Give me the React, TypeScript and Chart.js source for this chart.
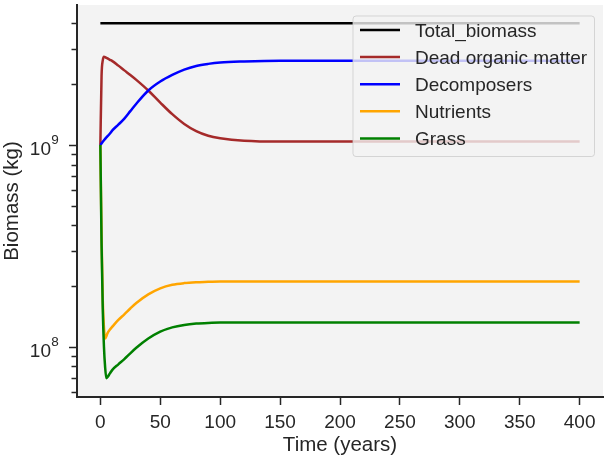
import React, { useEffect, useRef } from "react";
import { Chart, registerables } from "chart.js";

Chart.register(...registerables);

// ---- data ----
const years = [0, 1, 2, 3, 4, 5, 6, 8, 10, 15, 20, 25, 30, 40, 50, 60, 70, 80, 90, 100, 120, 150, 200, 250, 300, 350, 400];
const seriesNames = ["Total_biomass", "Dead organic matter", "Decomposers", "Nutrients", "Grass"];
const totalBiomass = [4.0e9, 4.0e9, 4.0e9, 4.0e9, 4.0e9, 4.0e9, 4.0e9, 4.0e9, 4.0e9, 4.0e9, 4.0e9, 4.0e9, 4.0e9, 4.0e9, 4.0e9, 4.0e9, 4.0e9, 4.0e9, 4.0e9, 4.0e9, 4.0e9, 4.0e9, 4.0e9, 4.0e9, 4.0e9, 4.0e9, 4.0e9];
const deadOrganicMatter = [1.0e9, 2.2e9, 2.62e9, 2.73e9, 2.72e9, 2.7e9, 2.68e9, 2.64e9, 2.6e9, 2.47e9, 2.34e9, 2.22e9, 2.1e9, 1.86e9, 1.62e9, 1.42e9, 1.27e9, 1.17e9, 1.11e9, 1.08e9, 1.05e9, 1.04e9, 1.04e9, 1.04e9, 1.04e9, 1.04e9, 1.04e9];
const decomposers = [1.0e9, 1.018e9, 1.036e9, 1.054e9, 1.072e9, 1.09e9, 1.105e9, 1.14e9, 1.18e9, 1.26e9, 1.35e9, 1.47e9, 1.6e9, 1.86e9, 2.06e9, 2.22e9, 2.36e9, 2.46e9, 2.52e9, 2.56e9, 2.59e9, 2.61e9, 2.61e9, 2.61e9, 2.61e9, 2.61e9, 2.61e9];
const nutrients = [1.0e9, 3.5e8, 1.7e8, 1.25e8, 1.1e8, 1.13e8, 1.17e8, 1.22e8, 1.26e8, 1.36e8, 1.45e8, 1.55e8, 1.65e8, 1.82e8, 1.95e8, 2.03e8, 2.07e8, 2.09e8, 2.1e8, 2.11e8, 2.11e8, 2.11e8, 2.11e8, 2.11e8, 2.11e8, 2.11e8, 2.11e8];
const grass = [1.0e9, 3.2e8, 1.55e8, 1.0e8, 7.9e7, 7.0e7, 7.1e7, 7.4e7, 7.7e7, 8.2e7, 8.7e7, 9.3e7, 9.9e7, 1.1e8, 1.19e8, 1.25e8, 1.285e8, 1.305e8, 1.315e8, 1.32e8, 1.32e8, 1.32e8, 1.32e8, 1.32e8, 1.32e8, 1.32e8, 1.32e8];

const xTicks = [0, 50, 100, 150, 200, 250, 300, 350, 400];
const yMajorTicks = [1e8, 1e9];
const yMajorLabels = [["10", "8"], ["10", "9"]];
const yMinorTicks = [6e7, 7e7, 8e7, 9e7, 2e8, 3e8, 4e8, 5e8, 6e8, 7e8, 8e8, 9e8, 2e9, 3e9, 4e9];

// ---- styles ----
const seriesColors = ["#000000", "#a52a2a", "#0000ff", "#ffa500", "#008000"];
const FONT = "'Liberation Sans', Arial, Helvetica, sans-serif";
const TEXT = "#262626";

export default function App() {
  const ref = useRef<HTMLCanvasElement | null>(null);

  useEffect(() => {
    document.body.style.margin = "0";
    const canvas = ref.current;
    if (!canvas) return;
    const seriesValues = [totalBiomass, deadOrganicMatter, decomposers, nutrients, grass];

    const bgPlugin = {
      id: "bg",
      beforeDraw(chart: any) {
        const { ctx, chartArea } = chart;
        ctx.save();
        ctx.fillStyle = "#f3f3f3";
        ctx.fillRect(chartArea.left, chartArea.top, chartArea.right - chartArea.left, chartArea.bottom - chartArea.top);
        ctx.restore();
      },
    };

    const decoPlugin = {
      id: "deco",
      afterDraw(chart: any) {
        const { ctx, chartArea } = chart;
        const y = chart.scales.y;
        ctx.save();
        // y tick marks
        ctx.strokeStyle = TEXT;
        ctx.lineWidth = 1.5;
        const drawTick = (v: number, len: number) => {
          const py = Math.round(y.getPixelForValue(v)) + 0.5;
          ctx.beginPath();
          ctx.moveTo(chartArea.left - len, py);
          ctx.lineTo(chartArea.left, py);
          ctx.stroke();
        };
        yMinorTicks.forEach((v) => drawTick(v, 5.5));
        yMajorTicks.forEach((v) => drawTick(v, 8));
        // y tick labels with superscripts
        ctx.fillStyle = TEXT;
        ctx.textBaseline = "alphabetic";
        yMajorTicks.forEach((v, i) => {
          const py = y.getPixelForValue(v);
          ctx.font = `19px ${FONT}`;
          ctx.textAlign = "right";
          ctx.fillText(yMajorLabels[i][0], 51, py + 9.7);
          ctx.font = `13.5px ${FONT}`;
          ctx.textAlign = "left";
          ctx.fillText(yMajorLabels[i][1], 51.3, py - 1.3);
        });

        // legend
        const bx = 353, by = 16, bw = 241.5, bh = 140.5, r = 3;
        ctx.beginPath();
        ctx.moveTo(bx + r, by);
        ctx.lineTo(bx + bw - r, by);
        ctx.quadraticCurveTo(bx + bw, by, bx + bw, by + r);
        ctx.lineTo(bx + bw, by + bh - r);
        ctx.quadraticCurveTo(bx + bw, by + bh, bx + bw - r, by + bh);
        ctx.lineTo(bx + r, by + bh);
        ctx.quadraticCurveTo(bx, by + bh, bx, by + bh - r);
        ctx.lineTo(bx, by + r);
        ctx.quadraticCurveTo(bx, by, bx + r, by);
        ctx.closePath();
        ctx.fillStyle = "rgba(243,243,243,0.8)";
        ctx.fill();
        ctx.strokeStyle = "rgba(204,204,204,0.8)";
        ctx.lineWidth = 1;
        ctx.stroke();
        seriesNames.forEach((name, i) => {
          const ry = 30 + i * 27.1;
          ctx.strokeStyle = seriesColors[i];
          ctx.lineWidth = 2.5;
          ctx.beginPath();
          ctx.moveTo(360, ry);
          ctx.lineTo(400, ry);
          ctx.stroke();
          ctx.fillStyle = TEXT;
          ctx.font = `19px ${FONT}`;
          ctx.textAlign = "left";
          ctx.textBaseline = "alphabetic";
          ctx.fillText(name, 415, ry + 6.7);
        });
        ctx.restore();
      },
    };

    const chart = new Chart(canvas, {
      type: "line",
      data: {
        datasets: seriesNames.map((name, i) => ({
          label: name,
          data: years.map((t, j) => ({ x: t, y: seriesValues[i][j] })),
          borderColor: seriesColors[i],
          backgroundColor: seriesColors[i],
          borderWidth: 2.5,
          pointRadius: 0,
          cubicInterpolationMode: "monotone",
          fill: false,
          order: seriesNames.length - i,
        })),
      },
      options: {
        responsive: false,
        animation: false,
        layout: { padding: { top: 5, right: 1, left: 0, bottom: 0 } },
        plugins: { legend: { display: false }, tooltip: { enabled: false } },
        scales: {
          x: {
            type: "linear",
            min: -19.5,
            max: 419.5,
            afterBuildTicks: (s: any) => {
              s.ticks = xTicks.map((v) => ({ value: v }));
            },
            afterFit: (s: any) => {
              s.height = 65;
            },
            grid: { display: true, drawOnChartArea: false, drawTicks: true, tickLength: 8, tickWidth: 1.5, tickColor: TEXT },
            border: { display: true, color: TEXT, width: 2 },
            ticks: { color: TEXT, font: { family: FONT, size: 19 }, padding: 6, maxRotation: 0, autoSkip: false },
            title: { display: true, text: "Time (years)", color: TEXT, font: { family: FONT, size: 20.5 }, padding: { top: 0, bottom: 4.3 } },
          },
          y: {
            type: "logarithmic",
            min: 5.65e7,
            max: 4.93e9,
            afterFit: (s: any) => {
              s.width = 77;
            },
            grid: { display: false, drawTicks: false },
            border: { display: true, color: TEXT, width: 2 },
            ticks: { display: false },
            title: { display: true, text: "Biomass (kg)", color: TEXT, font: { family: FONT, size: 20.5 }, padding: { top: 0, bottom: 0 } },
          },
        },
      },
      plugins: [bgPlugin, decoPlugin],
    } as any);
    return () => chart.destroy();
  }, []);

  return (
    <div style={{ position: "fixed", left: 0, top: 0, width: 604, height: 462, background: "#fff" }}>
      <canvas ref={ref} width={604} height={462} />
    </div>
  );
}
